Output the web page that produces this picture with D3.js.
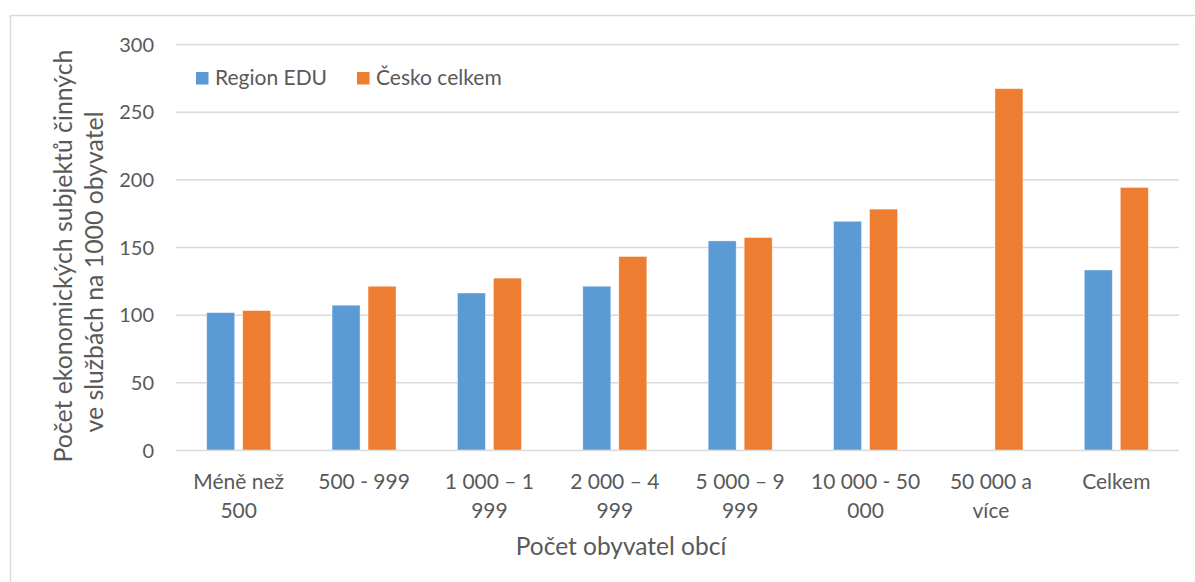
<!DOCTYPE html>
<html>
<head>
<meta charset="utf-8">
<script src="https://cdn.jsdelivr.net/npm/d3@7"></script>
<style>
  html, body { margin: 0; padding: 0; background: #fff; }
  svg { display: block; font-family: "Lato", "Open Sans", sans-serif; }
</style>
</head>
<body>
<svg id="chart" width="1195" height="582"></svg>
<script>
const categories = [
  ["Méně než", "500"],
  ["500 - 999"],
  ["1 000 – 1", "999"],
  ["2 000 – 4", "999"],
  ["5 000 – 9", "999"],
  ["10 000 - 50", "000"],
  ["50 000 a", "více"],
  ["Celkem"]
];
const seriesNames = ["Region EDU", "Česko celkem"];
const regionEDU = [101.5, 107, 116, 121, 154.5, 169, null, 133];
const ceskoCelkem = [103, 121, 127, 143, 157, 178, 267, 194];
const yTicks = [0, 50, 100, 150, 200, 250, 300];
const colors = ["#5B9BD5", "#ED7D31"];
const yTitle = ["Počet ekonomických subjektů činných", "ve službách na 1000 obyvatel"];
const xTitle = "Počet obyvatel obcí";

const svg = d3.select("#chart");
const textColor = "#595959";

// frame
svg.append("rect").attr("x", 10.5).attr("y", 15.5).attr("width", 1200).attr("height", 600)
  .attr("fill", "none").attr("stroke", "#d9d9d9").attr("stroke-width", 1.5);

const plot = { left: 176, right: 1179, top: 44, bottom: 450 };

const x = d3.scaleBand().domain(d3.range(categories.length))
  .range([plot.left, plot.right]).paddingInner(0).paddingOuter(0);
const y = d3.scaleLinear().domain([0, 300]).range([plot.bottom, plot.top]);
const groupW = 64;
const xs = d3.scaleBand().domain([0, 1]).range([0, groupW]).paddingInner(8 / 36).paddingOuter(0);

// gridlines
const yAxis = d3.axisLeft(y).tickValues(yTicks).tickSize(-(plot.right - plot.left)).tickPadding(22);
const gy = svg.append("g").attr("transform", `translate(${plot.left},0)`).call(yAxis);
gy.select(".domain").remove();
gy.selectAll(".tick line").attr("stroke", "#d9d9d9").attr("stroke-width", 1.5);
gy.selectAll(".tick text").attr("fill", textColor).attr("font-size", 20)
  .attr("font-family", "Lato, 'Open Sans', sans-serif").attr("dy", "0.35em");

// bars
const data = [regionEDU, ceskoCelkem];
data.forEach((vals, si) => {
  svg.append("g").selectAll("rect")
    .data(vals.map((v, i) => ({ v, i })).filter(d => d.v != null))
    .join("rect")
    .attr("x", d => x(d.i) + (x.bandwidth() - groupW) / 2 + xs(si))
    .attr("width", xs.bandwidth())
    .attr("y", d => y(d.v))
    .attr("height", d => y(0) - y(d.v))
    .attr("fill", colors[si])
    .attr("stroke", "#fff").attr("stroke-opacity", 0.5).attr("stroke-width", 0.8);
});

// x labels
const xl = svg.append("g");
categories.forEach((lines, i) => {
  const t = xl.append("text").attr("text-anchor", "middle")
    .attr("fill", textColor).attr("font-size", 21);
  lines.forEach((ln, k) => {
    t.append("tspan").attr("x", x(i) + x.bandwidth() / 2).attr("y", 489 + k * 29).text(ln);
  });
});

// x title
svg.append("text").attr("x", 621).attr("y", 555).attr("text-anchor", "middle")
  .attr("fill", textColor).attr("font-size", 24.5).text(xTitle);

// y title
const yCenters = [256, 272];
yTitle.forEach((ln, k) => {
  svg.append("text").attr("text-anchor", "middle").attr("fill", textColor).attr("font-size", 24.8)
    .attr("transform", `translate(${72 + k * 31},${yCenters[k]}) rotate(-90)`).text(ln);
});

// legend
const legend = svg.append("g");
const legendX = [196, 357];
seriesNames.forEach((name, i) => {
  legend.append("rect").attr("x", legendX[i]).attr("y", 72).attr("width", 12.5).attr("height", 12.5)
    .attr("fill", colors[i]);
  legend.append("text").attr("x", legendX[i] + 19).attr("y", 85)
    .attr("fill", textColor).attr("font-size", 21).text(name);
});
</script>
</body>
</html>
